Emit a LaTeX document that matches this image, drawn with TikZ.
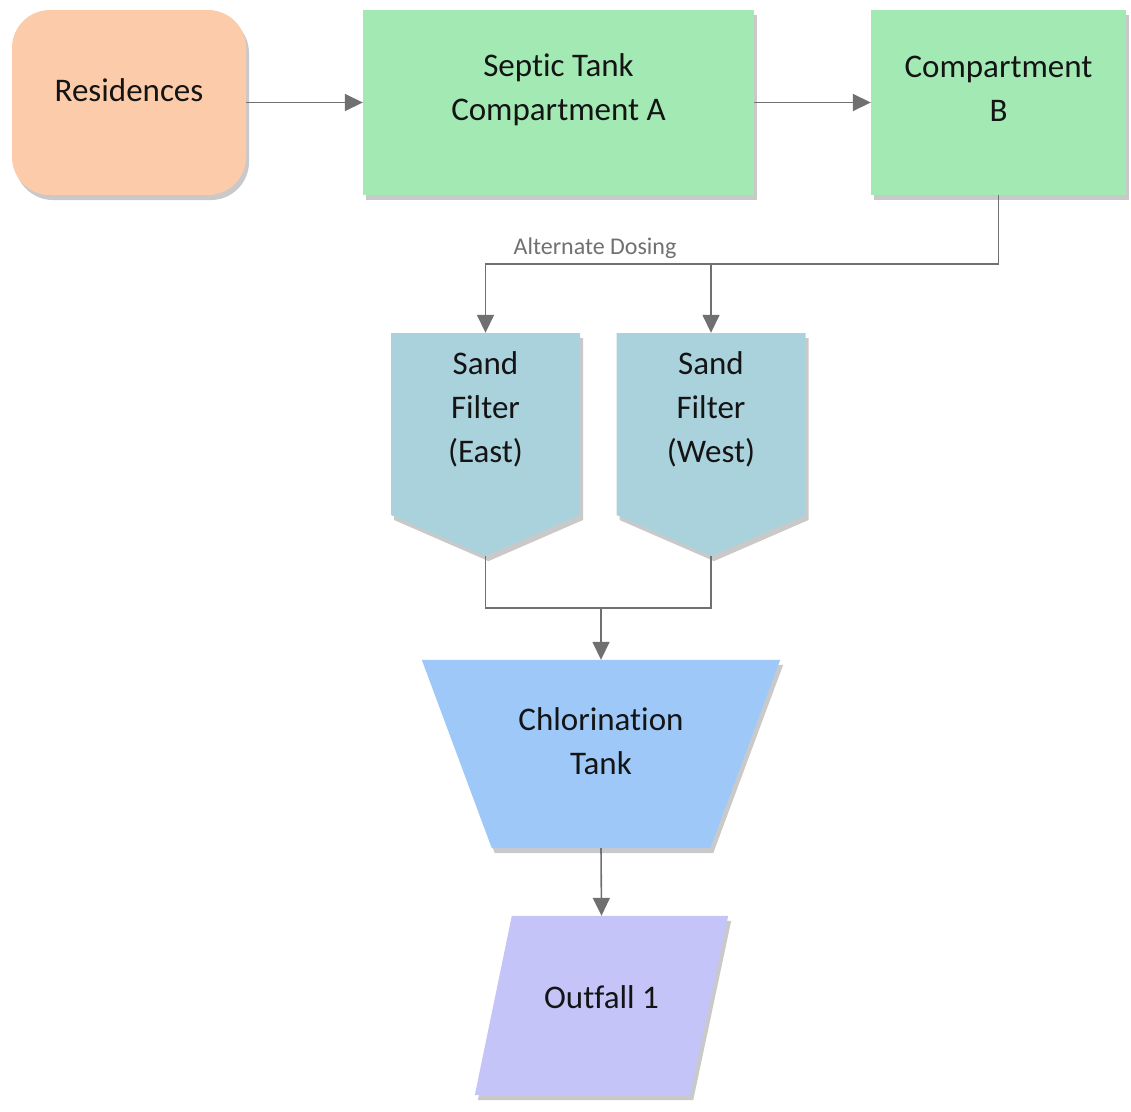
\documentclass[tikz,border=0pt]{standalone}
\usepackage{fontspec}
\setmainfont{Carlito}[Ligatures={NoCommon,NoRare,NoContextual}]
\usetikzlibrary{arrows.meta,shapes.symbols,shadows}
\definecolor{resfill}{HTML}{FBCBAA}
\definecolor{tankfill}{HTML}{A3E9B4}
\definecolor{sandfill}{HTML}{AAD2DC}
\definecolor{chlorfill}{HTML}{9DC8F8}
\definecolor{outfill}{HTML}{C4C4F8}
\definecolor{pipe}{HTML}{707070}
\definecolor{ink}{HTML}{141414}
\tikzset{
	shade/.style  = {drop shadow={shadow xshift=3pt, shadow yshift=-5pt, opacity=.3, fill=black!70}},
	unit/.style   = {draw=none, inner sep=0pt, shade},
	frame/.style  = {draw=none, inner sep=0pt, rectangle},
	lbl/.style    = {font=\fontsize{33}{44}\selectfont, text=ink, align=center},
	house/.style  = {unit, rectangle, rounded corners=38pt, fill=resfill,
		minimum width=234pt, minimum height=185pt},
	tank/.style   = {unit, rectangle, fill=tankfill, minimum height=185pt},
	sand/.style   = {unit, signal, signal to=south, signal pointer angle=133, fill=sandfill,
		minimum width=189pt, minimum height=182pt},
	pipe/.style   = {draw=pipe, line width=1.6pt},
	flow/.style   = {pipe, -{Triangle[length=18pt,width=17pt]}}
}
\begin{document}
\begin{tikzpicture}[x=1pt,y=1pt]
	\useasboundingbox (0,0) rectangle (1131,-1111);
	% units
	\node [house] (res) at (129,-102.5) {};
	\node [lbl] (reslbl) at (129,-90) {Residences};
	\node [tank, minimum width=391pt] (tankA) at (558.5,-102.5) {};
	\node [lbl] (tankAlbl) at (558.5,-90) {Septic Tank\\Compartment A};
	\node [tank, minimum width=255pt] (compB) at (998.5,-102.5) {};
	\node [lbl] (compBlbl) at (998.5,-89) {Compartment\\B};
	\node [sand] (east) at (485.5,-424) {};
	\node [lbl] (eastlbl) at (485.5,-409) {Sand\\Filter\\(East)};
	\node [sand] (west) at (711,-424) {};
	\node [lbl] (westlbl) at (711,-409) {Sand\\Filter\\(West)};
	\node [frame, minimum width=358pt, minimum height=188pt] (chlor) at (601,-754) {};
	\fill [chlorfill, shade] (chlor.north west) -- (chlor.north east)
		-- ([xshift=-70pt]chlor.south east) -- ([xshift=70pt]chlor.south west) -- cycle;
	\node [lbl] (chlorlbl) at (601,-741.5) {Chlorination\\Tank};
	\node [frame, minimum width=253pt, minimum height=179pt] (out) at (601.5,-1005.5) {};
	\fill [outfill, shade] ([xshift=37pt]out.north west) -- (out.north east)
		-- ([xshift=-38pt]out.south east) -- (out.south west) -- cycle;
	\node [lbl] (outlbl) at (601.5,-997) {Outfall 1};

	% flow lines
	\draw [flow] (res.east) -- (tankA.west);
	\draw [flow] (tankA.east) -- (compB.west);
	\coordinate (dose) at (compB.south |- 0,-264);
	\draw [flow] (compB.south) -- (dose) -| (east.north);
	\draw [flow] (west.north |- dose) -- (west.north);
	\node [font=\fontsize{24}{28}\selectfont, text=pipe] (dosing) at (595,-248) {Alternate Dosing};
	\coordinate (merge) at (chlor.north |- 0,-608);
	\draw [pipe] (east.south) |- (merge) -| (west.south);
	\draw [flow] (merge) -- (chlor.north);
	\draw [flow] (chlor.south) -- (out.north);
\end{tikzpicture}
\end{document}
